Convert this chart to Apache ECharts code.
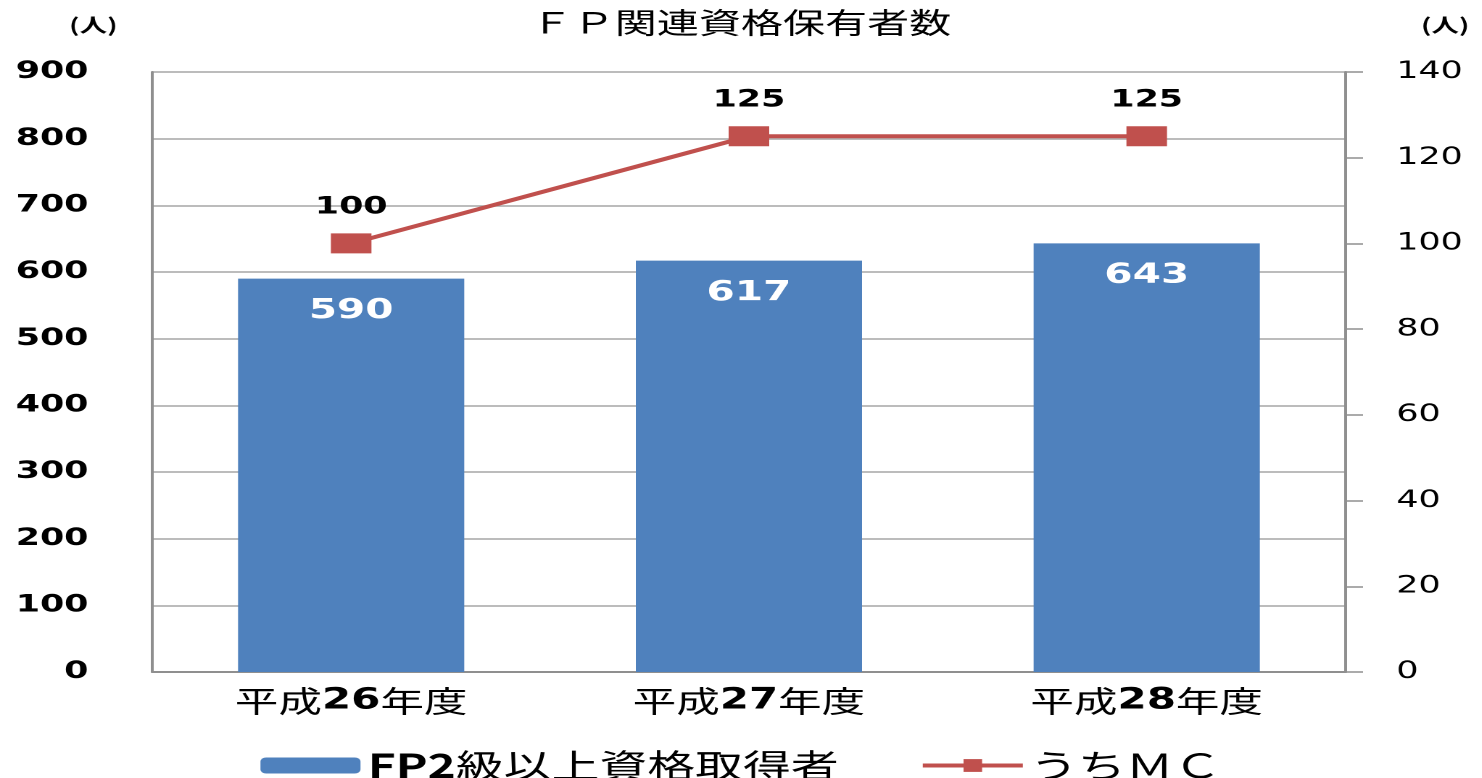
<!DOCTYPE html>
<html>
<head>
<meta charset="utf-8">
<title>FP関連資格保有者数</title>
<script src="https://cdn.jsdelivr.net/npm/echarts@6/dist/echarts.min.js"></script>
<style>
  html, body { margin: 0; padding: 0; background: #fff; overflow: hidden; }
  /* the original picture is stretched sideways, so the chart is drawn narrow and widened */
  #chart { width: 1022px; height: 778px; transform: scaleX(1.45); transform-origin: 0 0; }
</style>
</head>
<body>
<div id="chart"></div>
<script>
var categories = ['平成26年度', '平成27年度', '平成28年度'];
var fp2Values = [590, 617, 643];
var mcValues = [100, 125, 125];
var seriesNames = ['FP2級以上資格取得者', 'うちＭＣ'];
var leftTicks = { min: 0, max: 900, interval: 100 };
var rightTicks = { min: 0, max: 140, interval: 20 };

var cjk = "'Noto Sans CJK JP', sans-serif";
var num = "'DejaVu Sans', sans-serif";
var gridGrey = '#a6a6a6';
var axisGrey = '#8f8f8f';
var red = '#c0504d';

var chart = echarts.init(document.getElementById('chart'), null, { devicePixelRatio: 2 });

var option = {
  animation: false,
  title: {
    text: 'ＦＰ関連資格保有者数',
    left: 'center',
    top: 3,
    textStyle: { fontFamily: cjk, fontSize: 29, fontWeight: 'normal', color: '#000' }
  },
  legend: {
    top: 744,
    left: 'center',
    itemWidth: 69,
    itemHeight: 16,
    itemGap: 56,
    textStyle: {
      fontFamily: cjk, fontSize: 33, color: '#000',
      rich: { b: { fontFamily: cjk, fontSize: 33, fontWeight: 'bold', color: '#000' } }
    },
    formatter: function (name) { return name.replace(/^([A-Z0-9]+)/, '{b|$1}'); },
    data: [
      { name: seriesNames[0] },
      { name: seriesNames[1], lineStyle: { width: 4 } }
    ]
  },
  grid: { left: 105, right: 94, top: 72, bottom: 106 },
  xAxis: {
    type: 'category',
    data: categories,
    axisLine: { lineStyle: { color: axisGrey, width: 2 } },
    axisTick: { show: false },
    axisLabel: {
      margin: 14,
      color: '#000',
      fontFamily: cjk,
      fontSize: 30,
      formatter: function (v) { return v.replace(/(\d+)/, '{d|$1}'); },
      rich: { d: { fontFamily: num, fontWeight: 'bold', fontSize: 29, color: '#000' } }
    }
  },
  yAxis: [
    {
      type: 'value',
      min: leftTicks.min, max: leftTicks.max, interval: leftTicks.interval,
      name: '(人)',
      nameLocation: 'end',
      nameGap: 47,
      nameTextStyle: { fontFamily: cjk, fontSize: 19, fontWeight: 'bold', color: '#000',
        align: 'right', verticalAlign: 'middle', padding: [0, 24, 0, 0] },
      axisLine: { show: true, lineStyle: { color: axisGrey, width: 2 } },
      axisTick: { show: false },
      splitLine: { show: true, lineStyle: { color: gridGrey, width: 1.5 } },
      axisLabel: { margin: 44, color: '#000', fontFamily: num, fontWeight: 'bold', fontSize: 24 }
    },
    {
      type: 'value',
      position: 'right',
      min: rightTicks.min, max: rightTicks.max, interval: rightTicks.interval,
      name: '(人)',
      nameLocation: 'end',
      nameGap: 47,
      nameTextStyle: { fontFamily: cjk, fontSize: 19, fontWeight: 'bold', color: '#000',
        align: 'left', verticalAlign: 'middle', padding: [0, 0, 0, 52] },
      axisLine: { show: true, lineStyle: { color: axisGrey, width: 2 } },
      axisTick: { show: true, inside: false, length: 12, lineStyle: { color: axisGrey, width: 1.5 } },
      splitLine: { show: false },
      axisLabel: { margin: 35, align: 'left', color: '#000', fontFamily: num, fontSize: 24 }
    }
  ],
  series: [
    {
      name: seriesNames[0],
      type: 'bar',
      yAxisIndex: 0,
      data: fp2Values,
      barWidth: 156,
      itemStyle: { color: '#4f81bd' },
      label: {
        show: true,
        position: 'insideTop',
        distance: 18,
        color: '#fff',
        fontFamily: num,
        fontWeight: 'bold',
        fontSize: 28
      }
    },
    {
      name: seriesNames[1],
      type: 'line',
      yAxisIndex: 1,
      data: mcValues,
      symbol: 'rect',
      symbolSize: [28, 20],
      lineStyle: { color: red, width: 4 },
      itemStyle: { color: red },
      label: {
        show: true,
        position: 'top',
        distance: 14,
        color: '#000',
        fontFamily: num,
        fontWeight: 'bold',
        fontSize: 24
      }
    }
  ]
};

chart.setOption(option);
</script>
</body>
</html>
